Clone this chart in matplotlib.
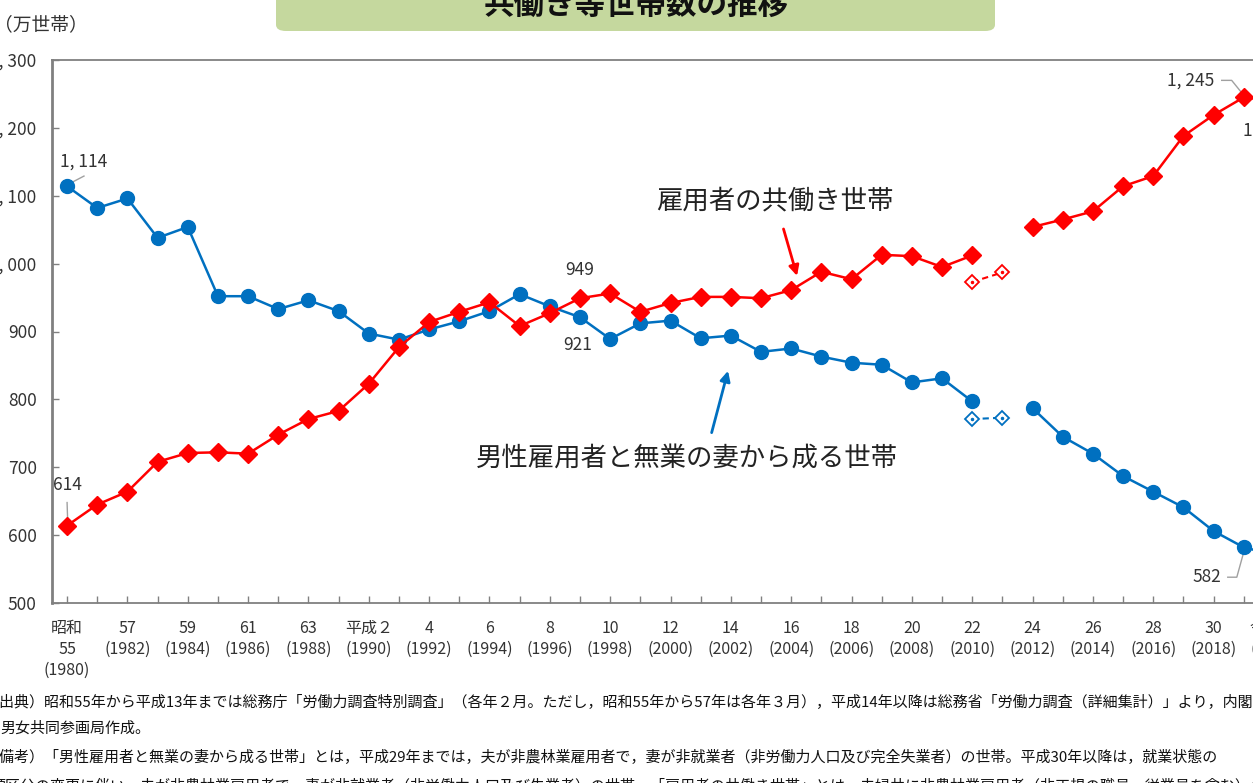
import numpy as np
import matplotlib.pyplot as plt
from matplotlib.patches import FancyBboxPatch

plt.rcParams['font.family'] = ['Noto Sans CJK JP', 'DejaVu Sans']

nan = np.nan
years = list(range(1980, 2021))
# 雇用者の共働き世帯
dual = [614, 645, 664, 708, 721, 722, 720, 748, 771, 783,
        823, 877, 914, 929, 943, 908, 927, 949, 956, 929,
        942, 951, 951, 949, 961, 988, 977, 1013, 1011, 995,
        1012, nan, 1054, 1065, 1077, 1114, 1129, 1188, 1219, 1245, 1240]
# 男性雇用者と無業の妻から成る世帯
single = [1114, 1082, 1096, 1038, 1054, 952, 952, 933, 946, 930,
          897, 888, 903, 915, 930, 955, 937, 921, 889, 912,
          916, 890, 894, 870, 875, 863, 854, 851, 825, 831,
          797, nan, 787, 745, 720, 687, 664, 641, 606, 582, 571]
# 岩手・宮城・福島を除く値
years_ex = [2010, 2011]
dual_ex = [973, 987]
single_ex = [771, 773]

era_labels = ['昭和\n55', '57', '59', '61', '63', '平成２', '4', '6', '8', '10',
              '12', '14', '16', '18', '20', '22', '24', '26', '28', '30', '令和２']
yticks = [500, 600, 700, 800, 900, 1000, 1100, 1200, 1300]

RED = '#FF0000'
BLUE = '#0070C0'
GRAY = '#808080'
TXT = '#333333'

W, H = 1253, 783
fig = plt.figure(figsize=(W / 100, H / 100), dpi=100)
ax = fig.add_axes([52 / W, 180 / H, 1237 / W, 543 / H])

ax.plot(years, single, color=BLUE, lw=1.8, marker='o', ms=10, zorder=3)
ax.plot(years, dual, color=RED, lw=1.8, marker='D', ms=9, zorder=4)
ax.plot(years_ex, single_ex, color=BLUE, lw=1.5, ls=(0, (3, 2)), marker='D',
        ms=7, mfc='white', mew=1.3, zorder=3)
ax.plot(years_ex, dual_ex, color=RED, lw=1.5, ls=(0, (3, 2)), marker='D',
        ms=7, mfc='white', mew=1.3, zorder=3)
for ys, c in [(single_ex, BLUE), (dual_ex, RED)]:
    ax.plot(years_ex, ys, ls='none', marker='.', ms=3, color=c, zorder=5)

ax.set_xlim(1979.5, 2020.5)
ax.set_ylim(500, 1300)

ax.set_yticks(yticks)
ax.set_yticklabels([f'{v:,}'.replace(',', ', ') for v in yticks],
                   fontsize=12.5, color=TXT)
ax.set_xticks(years)
xl = []
for y in years:
    if (y - 1980) % 2 == 0:
        xl.append(era_labels[(y - 1980) // 2] + f'\n({y})')
    else:
        xl.append('')
ax.set_xticklabels(xl, fontsize=11.5, color=TXT, linespacing=1.3)
ax.tick_params(axis='both', direction='in', length=5, color=GRAY, width=1)
ax.tick_params(axis='y', pad=11)
ax.tick_params(axis='x', pad=12)

for s in ['left', 'top', 'bottom', 'right']:
    ax.spines[s].set_color(GRAY)
ax.spines['left'].set_linewidth(2)
ax.spines['top'].set_linewidth(1.3)
ax.spines['bottom'].set_linewidth(1.3)

# 値ラベル
lc = '#A0A0A0'
ax.text(1980.56, 1150, '1, 114', fontsize=12.5, color=TXT, ha='center', va='center')
ax.plot([1980, 1980.56], [1116, 1129], color=lc, lw=1)
ax.text(1980, 674, '614', fontsize=12.5, color=TXT, ha='center', va='center')
ax.plot([1980, 1980.02], [648, 620], color=lc, lw=1)
ax.text(1997, 990, '949', fontsize=12.5, color=TXT, ha='center', va='center')
ax.text(1996.93, 880, '921', fontsize=12.5, color=TXT, ha='center', va='center')
ax.text(2017.24, 1270, '1, 245', fontsize=12.5, color=TXT, ha='center', va='center')
ax.plot([2018.27, 2018.6, 2019], [1270, 1270, 1248], color=lc, lw=1, clip_on=False)
ax.text(2017.77, 538, '582', fontsize=12.5, color=TXT, ha='center', va='center')
ax.plot([2018.47, 2018.77, 2019], [538, 538, 575], color=lc, lw=1, clip_on=False)
ax.text(2018.97, 1196, '1, 240', fontsize=12.5, color=TXT, ha='left', va='center')

# 系列名と矢印
ax.text(2003.46, 1093, '雇用者の共働き世帯', fontsize=19, color='#222222',
        ha='center', va='center')
ax.annotate('', xy=(2004.22, 978), xytext=(2003.72, 1055),
            arrowprops=dict(arrowstyle='-|>', color=RED, lw=2,
                            mutation_scale=15))
ax.text(2000.54, 713, '男性雇用者と無業の妻から成る世帯', fontsize=19,
        color='#222222', ha='center', va='center')
ax.annotate('', xy=(2001.93, 846), xytext=(2001.34, 747),
            arrowprops=dict(arrowstyle='-|>', color=BLUE, lw=2,
                            mutation_scale=15))

# タイトル
box = FancyBboxPatch((276 / W, 1 - 31 / H), 719 / W, 60 / H,
                     boxstyle='round,pad=0,rounding_size=0.008',
                     transform=fig.transFigure, fc='#C5D89E', ec='none')
fig.patches.append(box)
fig.text(636 / W, 1 - 5 / H, '共働き等世帯数の推移', fontsize=22,
         fontweight='bold', ha='center', va='center', color='#111111')
fig.text(-6 / W, 1 - 25 / H, '（万世帯）', fontsize=13.5, color=TXT,
         ha='left', va='center')

# 注記
notes = [
    '（出典）昭和55年から平成13年までは総務庁「労働力調査特別調査」（各年２月。ただし，昭和55年から57年は各年３月），'
    '平成14年以降は総務省「労働力調査（詳細集計）」より，内閣府',
    '男女共同参画局作成。',
    '（備考）「男性雇用者と無業の妻から成る世帯」とは，平成29年までは，夫が非農林業雇用者で，妻が非就業者'
    '（非労働力人口及び完全失業者）の世帯。平成30年以降は，就業状態の',
    '類区分の変更に伴い，夫が非農林業雇用者で，妻が非就業者（非労働力人口及び失業者）の世帯。'
    '「雇用者の共働き世帯」とは，夫婦共に非農林業雇用者（非正規の職員・従業員を含む）の世帯。',
]
note_y = [702, 729, 757, 786]
note_x = [-15, 0, -15, -9]
for t, yy, xx in zip(notes, note_y, note_x):
    fig.text(xx / W, 1 - yy / H, t, fontsize=10.8, color='#111111',
             ha='left', va='center')

fig.savefig('out.png', dpi=100)
